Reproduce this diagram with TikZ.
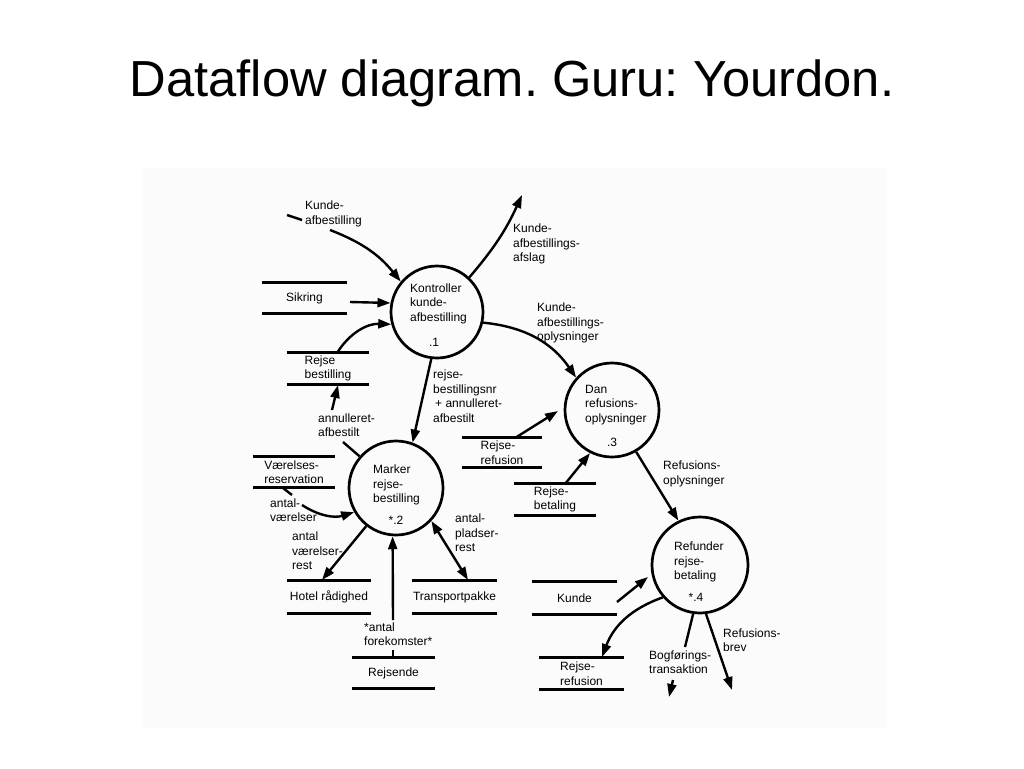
\documentclass[tikz,border=0pt]{standalone}
\usepackage{fontspec}
\setmainfont{Liberation Sans}
\usetikzlibrary{arrows.meta}
\frenchspacing
\begin{document}
\begin{tikzpicture}[x=1pt,y=-1pt,
  txt/.style={font=\fontsize{12}{14.5}\selectfont, align=left, inner sep=0pt},
  lbl/.style={txt, anchor=west},
  proc/.style={circle, draw=black, line width=2.7pt, minimum size=#1, inner sep=0pt},
  store/.style n args={2}{txt, minimum width=#1, minimum height=#2},
  storeline/.style={draw=black, line width=2.8pt},
  fline/.style={draw=black, line width=2.4pt},
  arr/.style={fline, -{Triangle[length=13pt,width=9pt]}},
  darr/.style={fline, {Triangle[length=13pt,width=9pt]}-{Triangle[length=13pt,width=9pt]}}
]
\useasboundingbox (0,0) rectangle (1024,768);
\fill[white] (0,0) rectangle (1024,768);
\fill[black!1.5] (142,168) rectangle (887,728);

% title
\node[font=\fontsize{50.7}{55}\selectfont, anchor=base, inner sep=0pt] (title) at (512,96) {Dataflow diagram. Guru: Yourdon.};

% processes
\node[proc=92pt] (c1) at (437,312) {};
\node[proc=94pt] (c2) at (396,488) {};
\node[proc=94pt] (c3) at (612,410) {};
\node[proc=96pt] (c4) at (700,565) {};

\node[lbl] (c1t) at (410,303.5) {Kontroller\\kunde-\\afbestilling};
\node[txt] (c1n) at (434,342) {.1};
\node[lbl] (c2t) at (373,485) {Marker\\rejse-\\bestilling};
\node[txt] (c2n) at (396,520) {*.2};
\node[lbl] (c3t) at (585,405) {Dan\\refusions-\\oplysninger};
\node[txt] (c3n) at (612,442) {.3};
\node[lbl] (c4t) at (674,562) {Refunder\\rejse-\\betaling};
\node[txt] (c4n) at (696,597) {*.4};

% data stores
\node[store={85pt}{30pt}] (sik) at (304.5,298) {Sikring};
\node[store={82pt}{31pt}] (rb) at (328,368.5) {Rejse\\bestilling};
\node[store={82pt}{30pt}] (vr) at (294,472) {Værelses-\\reservation};
\node[store={84pt}{32pt}] (hr) at (329,597) {Hotel rådighed};
\node[store={85pt}{32pt}] (tp) at (454.5,597) {Transportpakke};
\node[store={83pt}{30pt}] (rj) at (393.5,673) {Rejsende};
\node[store={80pt}{29pt}] (rr1) at (502,452.5) {Rejse-\\refusion};
\node[store={82pt}{31pt}] (bet) at (555,499.5) {Rejse-\\betaling};
\node[store={85pt}{32pt}] (ku) at (574.5,598) {Kunde};
\node[store={85pt}{31pt}] (rr2) at (581.5,673.5) {Rejse-\\refusion};
\foreach \s in {sik,rb,vr,hr,tp,rj,rr1,bet,ku,rr2}{
  \draw[storeline] (\s.north west) -- (\s.north east) (\s.south west) -- (\s.south east);
}

% flow labels
\node[lbl] (lka) at (305,214) {Kunde-\\afbestilling};
\node[lbl] (lafs) at (513,244) {Kunde-\\afbestillings-\\afslag};
\node[lbl] (lopl) at (537,323) {Kunde-\\afbestillings-\\oplysninger};
\node[lbl] (lnr) at (433,396) {rejse-\\bestillingsnr\\\hspace{2pt}+ annulleret-\\afbestilt};
\node[lbl] (lann) at (318,425) {annulleret-\\afbestilt};
\node[lbl] (lav) at (270,510) {antal-\\værelser};
\node[lbl] (lavr) at (292,551) {antal\\værelser-\\rest};
\node[lbl] (lapr) at (455,533) {antal-\\pladser-\\rest};
\node[lbl] (laf) at (364,634) {*antal\\forekomster*};
\node[lbl] (lro) at (663,474) {Refusions-\\oplysninger};
\node[lbl] (lbt) at (649,662) {Bogførings-\\transaktion};
\node[lbl] (lrb) at (723,640) {Refusions-\\brev};

% free ends
\coordinate (ka0) at (287,215);
\coordinate (ka1) at (302,220);
\coordinate (ka2) at (330,230);
\coordinate (afe) at (522,195);
\coordinate (sk1) at (350,302);
\coordinate (rbs) at (337,353);
\coordinate (an1) at (343,442);
\coordinate (an2) at (332,410);
\coordinate (an3) at (338,385);
\coordinate (vr1) at (283,488);
\coordinate (vr2) at (292,495);
\coordinate (vr3) at (302,505);
\coordinate (hr1) at (322,580);
\coordinate (tp1) at (468,580);
\coordinate (rj1) at (393,650);
\coordinate (rj2) at (393,620);
\coordinate (rra) at (515,438);
\coordinate (rrb) at (558,411);
\coordinate (bta) at (565,484);
\coordinate (kua) at (617,602);
\coordinate (kub) at (648,577);
\coordinate (rr2a) at (602,657);
\coordinate (bt1) at (685,647);
\coordinate (bt2) at (673,680);
\coordinate (bt3) at (669,697);
\coordinate (rbv1) at (732,690);

% flows
\draw[fline] (ka0) -- (ka1);
\draw[arr] (ka2) to[bend left=15] (c1.140);
\draw[arr] (c1.47) to[bend right=8] (afe);
\draw[arr] (sk1) -- (c1.169);
\draw[arr] (rbs) to[bend left=30] (c1.195);
\draw[fline] (c2.139) -- (an1);
\draw[arr] (an2) -- (an3);
\draw[arr] (c1.263) -- (c2.70);
\draw[arr] (c1.347) to[bend left=25] (c3.138);
\draw[fline] (vr1) -- (vr2);
\draw[arr] (vr3) to[bend right=25] (c2.210);
\draw[arr] (c2.232) -- (hr1);
\draw[darr] (c2.317) -- (tp1);
\draw[fline] (rj.north -| rj1) -- (rj1);
\draw[arr] (rj2) -- (c2.266);
\draw[arr] (rra) -- (rrb);
\draw[arr] (bta) -- (c3.243);
\draw[arr] (c3.300) -- (c4.116);
\draw[arr] (kua) -- (kub);
\draw[arr] (c4.221) to[bend right=25] (rr2a);
\draw[fline] (c4.262) -- (bt1);
\draw[arr] (bt2) -- (bt3);
\draw[arr] (c4.277) -- (rbv1);
\end{tikzpicture}
\end{document}
